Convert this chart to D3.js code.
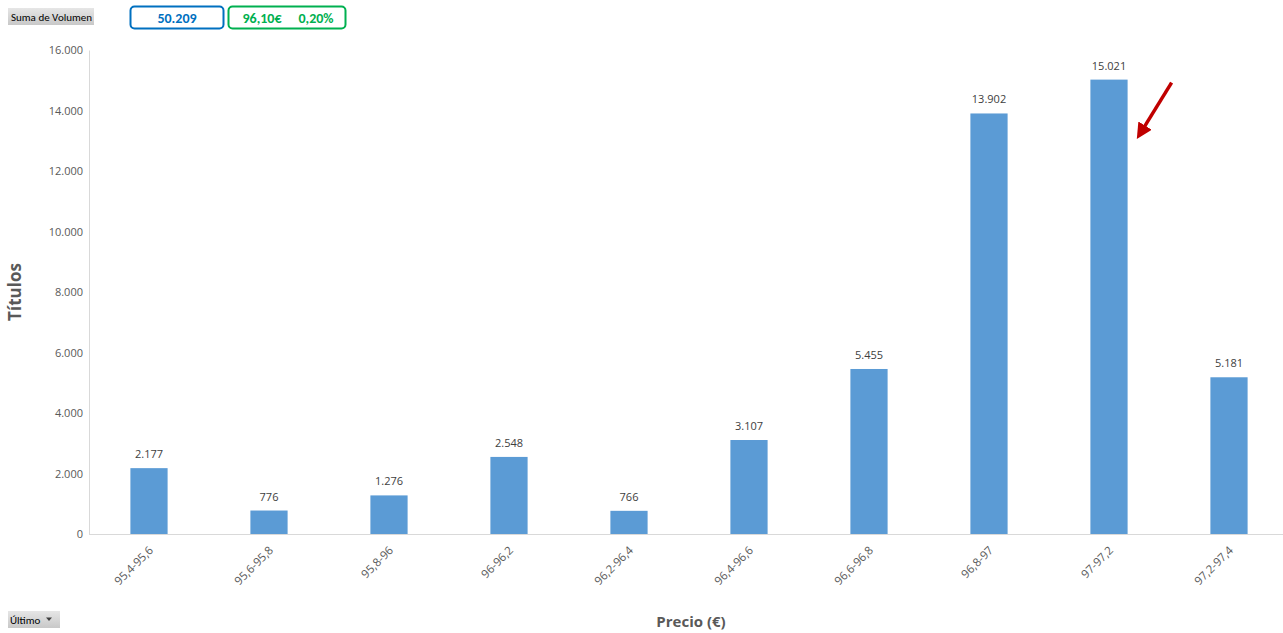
<!DOCTYPE html>
<html>
<head>
<meta charset="utf-8">
<script src="https://cdn.jsdelivr.net/npm/d3@7"></script>
<style>
  body { margin: 0; background: #fff; }
  text { font-family: "Open Sans", "Liberation Sans", sans-serif; }
  .cal { font-family: Carlito, Lato, sans-serif; }
</style>
</head>
<body>
<svg id="chart"></svg>
<script>
// Price ranges and volume (títulos) per range
const categories = ["95,4-95,6", "95,6-95,8", "95,8-96", "96-96,2", "96,2-96,4",
                    "96,4-96,6", "96,6-96,8", "96,8-97", "97-97,2", "97,2-97,4"];
const volumes = [2177, 776, 1276, 2548, 766, 3107, 5455, 13902, 15021, 5181];
const yTicks = [0, 2000, 4000, 6000, 8000, 10000, 12000, 14000, 16000];
const headerValues = ["50.209", "96,10€", "0,20%"];

const width = 1283;
const height = 633;
const plotLeft = 89;
const plotTop = 50;
const plotBottom = 534;

const fmt = d3.formatLocale({ decimal: ",", thousands: ".", grouping: [3], currency: ["", "€"] }).format(",d");

const svg = d3.select("#chart")
    .attr("width", width)
    .attr("height", height);

const x = d3.scaleBand()
    .domain(categories)
    .range([plotLeft, plotLeft + 120 * categories.length])
    .paddingInner(0.69)
    .paddingOuter(0.345);

const y = d3.scaleLinear()
    .domain([0, 16000])
    .range([plotBottom, plotTop]);

// y axis
const yAxis = d3.axisLeft(y)
    .tickValues(yTicks)
    .tickFormat(fmt)
    .tickSize(0)
    .tickPadding(6);

const gy = svg.append("g")
    .attr("transform", `translate(${plotLeft}, 0)`)
    .call(yAxis);
gy.select(".domain").attr("stroke", "#d9d9d9");
gy.selectAll("text").attr("fill", "#595959").style("font-size", "11px").style("font-family", "'Open Sans', sans-serif");

// x axis
const xAxis = d3.axisBottom(x).tickSize(0);
const gx = svg.append("g")
    .attr("transform", `translate(0, ${plotBottom})`)
    .call(xAxis);
gx.select(".domain").attr("d", `M${plotLeft},0.5H1283`).attr("stroke", "#d9d9d9");
gx.selectAll("text")
    .attr("fill", "#595959")
    .style("font-size", "11.5px")
    .style("font-family", "'Open Sans', sans-serif")
    .style("text-anchor", "end")
    .attr("x", 0)
    .attr("y", 0)
    .attr("dy", 0)
    .attr("transform", "translate(5,17) rotate(-45)");

// bars
svg.selectAll("rect.bar")
    .data(volumes)
    .enter()
    .append("rect")
        .attr("class", "bar")
        .attr("x", (d, i) => x(categories[i]))
        .attr("y", d => y(d))
        .attr("width", x.bandwidth())
        .attr("height", d => plotBottom - y(d))
        .attr("fill", "#5b9bd5");

// data labels
svg.selectAll("text.lbl")
    .data(volumes)
    .enter()
    .append("text")
        .attr("class", "lbl")
        .attr("x", (d, i) => x(categories[i]) + x.bandwidth() / 2)
        .attr("y", d => y(d) - 10)
        .style("text-anchor", "middle")
        .style("font-size", "11px")
        .attr("fill", "#404040")
        .text(d => fmt(d));

// axis titles
svg.append("text")
    .attr("transform", "rotate(-90)")
    .attr("x", -292)
    .attr("y", 21)
    .style("text-anchor", "middle")
    .style("font-size", "17px")
    .style("font-weight", "bold")
    .attr("fill", "#595959")
    .text("Títulos");

svg.append("text")
    .attr("x", 691)
    .attr("y", 627)
    .style("text-anchor", "middle")
    .style("font-size", "15px")
    .style("font-weight", "bold")
    .attr("fill", "#595959")
    .text("Precio (€)");

// red arrow pointing at the biggest bar
const defs = svg.append("defs");
defs.append("marker")
    .attr("id", "head")
    .attr("viewBox", "0 0 10 10")
    .attr("refX", 3).attr("refY", 5)
    .attr("markerWidth", 4.5).attr("markerHeight", 4.5)
    .attr("orient", "auto")
  .append("path")
    .attr("d", "M0,0L10,5L0,10z")
    .attr("fill", "#c00000");

const maxI = volumes.indexOf(d3.max(volumes));
const ax = x(categories[maxI]) + x.bandwidth();
svg.append("line")
    .attr("x1", ax + 44).attr("y1", y(volumes[maxI]) + 3)
    .attr("x2", ax + 15).attr("y2", y(volumes[maxI]) + 50)
    .attr("stroke", "#c00000")
    .attr("stroke-width", 3.5)
    .attr("marker-end", "url(#head)");

// pivot field buttons
const grad = defs.append("linearGradient").attr("id", "btn").attr("x1", 0).attr("y1", 0).attr("x2", 0).attr("y2", 1);
grad.append("stop").attr("offset", "0%").attr("stop-color", "#e6e6e6");
grad.append("stop").attr("offset", "100%").attr("stop-color", "#c8c8c8");

svg.append("rect").attr("x", 8).attr("y", 8).attr("width", 86).attr("height", 17).attr("fill", "url(#btn)");
svg.append("text").attr("class", "cal").attr("x", 11).attr("y", 20.5).style("font-size", "11px").attr("fill", "#000").text("Suma de Volumen");

svg.append("rect").attr("x", 8).attr("y", 611).attr("width", 52).attr("height", 17).attr("fill", "url(#btn)");
svg.append("text").attr("class", "cal").attr("x", 10).attr("y", 623.5).style("font-size", "11px").attr("fill", "#000").text("Último");
svg.append("path").attr("d", "M46,617.5h6l-3,3.5z").attr("fill", "#404040");

// header boxes
svg.append("rect")
    .attr("x", 130.5).attr("y", 6.5).attr("width", 93).attr("height", 22).attr("rx", 4)
    .attr("fill", "#fff").attr("stroke", "#0070c0").attr("stroke-width", 2);
svg.append("text")
    .attr("class", "cal")
    .attr("x", 177).attr("y", 22.5)
    .style("text-anchor", "middle").style("font-size", "14px").style("font-weight", "bold")
    .attr("fill", "#0070c0")
    .text(headerValues[0]);

svg.append("rect")
    .attr("x", 228.5).attr("y", 6.5).attr("width", 117).attr("height", 22).attr("rx", 4)
    .attr("fill", "#fff").attr("stroke", "#00b050").attr("stroke-width", 2);
svg.append("text")
    .attr("class", "cal")
    .attr("x", 262).attr("y", 22.5)
    .style("text-anchor", "middle").style("font-size", "14px").style("font-weight", "bold")
    .attr("fill", "#00b050")
    .text(headerValues[1]);
svg.append("text")
    .attr("class", "cal")
    .attr("x", 316).attr("y", 22.5)
    .style("text-anchor", "middle").style("font-size", "14px").style("font-weight", "bold")
    .attr("fill", "#00b050")
    .text(headerValues[2]);
</script>
</body>
</html>
